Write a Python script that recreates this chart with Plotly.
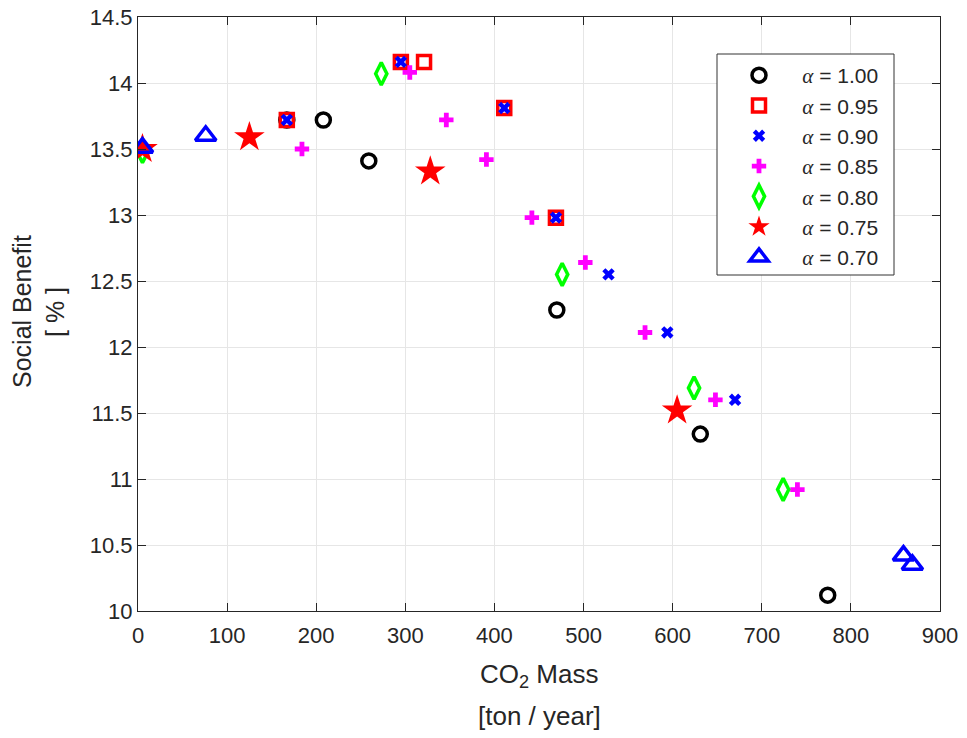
import plotly.graph_objects as go

# ---- data ----
alpha_labels = ["1.00", "0.95", "0.90", "0.85", "0.80", "0.75", "0.70"]

x_a100 = [167, 208, 259, 470, 631, 774]
y_a100 = [13.72, 13.72, 13.41, 12.28, 11.34, 10.12]

x_a095 = [167, 295, 321, 411, 469]
y_a095 = [13.72, 14.16, 14.16, 13.81, 12.98]

x_a090 = [167, 295, 411, 469, 528, 594, 670]
y_a090 = [13.72, 14.16, 13.81, 12.98, 12.55, 12.11, 11.60]

x_a085 = [184, 305, 346, 391, 442, 502, 569, 648, 740]
y_a085 = [13.50, 14.08, 13.72, 13.42, 12.98, 12.64, 12.11, 11.60, 10.92]

x_a080 = [5, 273, 476, 624, 724]
y_a080 = [13.48, 14.07, 12.55, 11.69, 10.92]

x_a075 = [5, 125, 328, 605]
y_a075 = [13.50, 13.59, 13.33, 11.52]

x_a070 = [5, 76, 859, 869]
y_a070 = [13.51, 13.60, 10.42, 10.35]

x_ticks = [0, 100, 200, 300, 400, 500, 600, 700, 800, 900]
y_ticks = [10, 10.5, 11, 11.5, 12, 12.5, 13, 13.5, 14, 14.5]
y_tick_text = ["10", "10.5", "11", "11.5", "12", "12.5", "13", "13.5", "14", "14.5"]

series = [
    (x_a100, y_a100, alpha_labels[0], "circle-open", "black", 14, 3.5),
    (x_a095, y_a095, alpha_labels[1], "square-open", "#FF0000", 13, 3.5),
    (x_a090, y_a090, alpha_labels[2], "x", "#0000FF", 11, 0),
    (x_a085, y_a085, alpha_labels[3], "cross", "#FF00FF", 12, 0),
    (x_a080, y_a080, alpha_labels[4], "diamond-tall-open", "#00FF00", 16, 3.5),
    (x_a075, y_a075, alpha_labels[5], "star", "#FF0000", 23, 0),
    (x_a070, y_a070, alpha_labels[6], "triangle-up-open", "#0000FF", 18, 3.5),
]

FONT = "Liberation Sans, Arial, sans-serif"
TXT = "#262626"

fig = go.Figure()
for i, (xs, ys, lab, sym, col, sz, lw) in enumerate(series):
    marker = dict(symbol=sym, color=col, size=sz)
    marker["line"] = dict(color=col, width=lw) if lw else dict(width=0)
    name = ("\u00a0\u00a0\u00a0\u00a0<span style=\"font-family:'Liberation Serif'\"><i>α</i></span>"
            " = " + lab)
    fig.add_trace(go.Scatter(
        x=xs, y=ys, mode="markers", name=name, marker=marker,
        legendgroup="g%d" % i,
    ))

# page has an 8px body margin: figure is placed at (8, 8) in the window
W, H = 951, 722
L, R, T, B = 130, 19, 9, 119
PW = W - L - R
PH = H - T - B


def sx(p):  # screen px -> paper x
    return (p - 8 - L) / PW


def sy(p):  # screen px -> paper y
    return (H - B - (p - 8)) / PH


axis_common = dict(
    ticks="inside", ticklen=8, tickcolor=TXT, showline=True, linecolor=TXT,
    linewidth=1, mirror="ticks", showgrid=True, gridcolor="#E6E6E6",
    gridwidth=1, zeroline=False, tickfont=dict(size=22, color=TXT),
    ticklabeloverflow="allow", automargin=False,
)

fig.update_layout(
    width=W, height=H,
    margin=dict(l=L, r=R, t=T, b=B, autoexpand=False),
    paper_bgcolor="white", plot_bgcolor="white",
    font=dict(family=FONT, size=22, color=TXT),
    xaxis=dict(range=[0, 900], tickvals=x_ticks, ticklabelstandoff=5,
               **axis_common),
    yaxis=dict(range=[10, 14.5], tickvals=y_ticks, ticktext=y_tick_text,
               **axis_common),
    showlegend=True,
    legend=dict(
        x=sx(739), y=sy(55), xanchor="left", yanchor="top",
        bgcolor="rgba(0,0,0,0)", borderwidth=0,
        font=dict(size=21, color=TXT, family=FONT),
        tracegroupgap=0, itemsizing="trace",
    ),
)

# legend frame
fig.add_shape(
    type="rect", xref="paper", yref="paper",
    x0=sx(717), x1=sx(894), y0=sy(275), y1=sy(54),
    line=dict(color="#333333", width=1), fillcolor="white", layer="above",
)

annos = [
    dict(text="CO<sub>2</sub> Mass", x=sx(539), y=sy(675), textangle=0, size=26),
    dict(text="[ton / year]", x=sx(539), y=sy(716), textangle=0, size=26),
    dict(text="Social Benefit", x=sx(22), y=sy(311), textangle=-90, size=25),
    dict(text="[ % ]", x=sx(55), y=sy(312), textangle=-90, size=25),
]
for a in annos:
    fig.add_annotation(
        text=a["text"], x=a["x"], y=a["y"], xref="paper", yref="paper",
        xanchor="center", yanchor="middle", showarrow=False,
        textangle=a["textangle"],
        font=dict(size=a["size"], color=TXT, family=FONT),
    )

fig.write_html("out.html")
